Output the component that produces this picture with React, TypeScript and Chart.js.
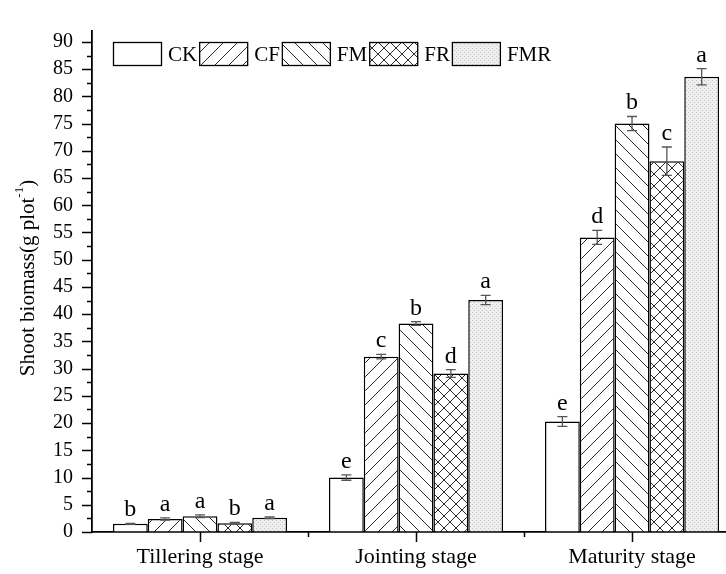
import React, { useEffect, useRef } from 'react';
import { Chart, registerables } from 'chart.js';

Chart.register(...registerables);

const categories = ['Tillering stage', 'Jointing stage', 'Maturity stage'];
const seriesNames = ['CK', 'CF', 'FM', 'FR', 'FMR'];

const ckValues = [1.5, 10.0, 20.3];
const cfValues = [2.4, 32.2, 54.1];
const fmValues = [2.9, 38.3, 75.0];
const frValues = [1.6, 29.1, 68.1];
const fmrValues = [2.6, 42.6, 83.6];

const ckErrors = [0.1, 0.5, 0.9];
const cfErrors = [0.2, 0.4, 1.3];
const fmErrors = [0.25, 0.35, 1.3];
const frErrors = [0.15, 0.7, 2.6];
const fmrErrors = [0.15, 0.85, 1.5];

const ckLetters = ['b', 'e', 'e'];
const cfLetters = ['a', 'c', 'd'];
const fmLetters = ['a', 'b', 'b'];
const frLetters = ['b', 'd', 'c'];
const fmrLetters = ['a', 'a', 'a'];

const yTickValues = [0, 5, 10, 15, 20, 25, 30, 35, 40, 45, 50, 55, 60, 65, 70, 75, 80, 85, 90];

const seriesValues = [ckValues, cfValues, fmValues, frValues, fmrValues];
const seriesErrors = [ckErrors, cfErrors, fmErrors, frErrors, fmrErrors];
const seriesLetters = [ckLetters, cfLetters, fmLetters, frLetters, fmrLetters];
const patternKinds = ['none', 'fwd', 'back', 'cross', 'dots'];

const FONT = '"Liberation Serif", "Times New Roman", serif';

function makePattern(ctx: CanvasRenderingContext2D, kind: string): any {
  if (kind === 'none') return '#ffffff';
  const c = document.createElement('canvas');
  const s = kind === 'dots' ? 4 : kind === 'cross' ? 12 : 14;
  c.width = s;
  c.height = s;
  const t = c.getContext('2d') as CanvasRenderingContext2D;
  t.fillStyle = kind === 'dots' ? '#efefef' : '#ffffff';
  t.fillRect(0, 0, s, s);
  t.strokeStyle = '#2a2a2a';
  t.lineWidth = 1;
  const fwd = () => {
    t.beginPath();
    t.moveTo(-1, s + 1);
    t.lineTo(s + 1, -1);
    t.moveTo(-1, 1);
    t.lineTo(1, -1);
    t.moveTo(s - 1, s + 1);
    t.lineTo(s + 1, s - 1);
    t.stroke();
  };
  const back = () => {
    t.beginPath();
    t.moveTo(-1, -1);
    t.lineTo(s + 1, s + 1);
    t.moveTo(s - 1, -1);
    t.lineTo(s + 1, 1);
    t.moveTo(-1, s - 1);
    t.lineTo(1, s + 1);
    t.stroke();
  };
  if (kind === 'fwd') fwd();
  if (kind === 'back') back();
  if (kind === 'cross') {
    fwd();
    back();
  }
  if (kind === 'dots') {
    t.fillStyle = '#c4c4c4';
    t.fillRect(0, 0, 1, 1);
    t.fillRect(2, 2, 1, 1);
  }
  return ctx.createPattern(c, 'repeat');
}

export default function App() {
  const ref = useRef<HTMLCanvasElement | null>(null);

  useEffect(() => {
    document.body.style.margin = '0';
    const canvas = ref.current as HTMLCanvasElement;
    const ctx0 = canvas.getContext('2d') as CanvasRenderingContext2D;
    const patterns = patternKinds.map((k) => makePattern(ctx0, k));

    const overlay = {
      id: 'overlay',
      afterDatasetsDraw(chart: any) {
        const ctx = chart.ctx;
        const ys = chart.scales.y;
        ctx.save();
        chart.data.datasets.forEach((_ds: any, di: number) => {
          const meta = chart.getDatasetMeta(di);
          meta.data.forEach((bar: any, i: number) => {
            const v = seriesValues[di][i];
            const e = seriesErrors[di][i];
            const x = bar.x;
            const yt = ys.getPixelForValue(v + e);
            const yb = ys.getPixelForValue(v - e);
            ctx.strokeStyle = '#555555';
            ctx.lineWidth = 1.3;
            ctx.beginPath();
            ctx.moveTo(x, yt);
            ctx.lineTo(x, yb);
            ctx.moveTo(x - 5, yt);
            ctx.lineTo(x + 5, yt);
            ctx.moveTo(x - 5, yb);
            ctx.lineTo(x + 5, yb);
            ctx.stroke();
            ctx.fillStyle = '#000000';
            ctx.font = '24px ' + FONT;
            ctx.textAlign = 'center';
            ctx.textBaseline = 'alphabetic';
            ctx.fillText(seriesLetters[di][i], x, yt - 7);
          });
        });
        ctx.restore();
      },
      afterDraw(chart: any) {
        const ctx = chart.ctx;
        const area = chart.chartArea;
        const ys = chart.scales.y;
        const xs = chart.scales.x;
        ctx.save();
        ctx.strokeStyle = '#000000';
        ctx.lineWidth = 1.5;
        ctx.beginPath();
        for (let v = 0; v <= 90; v += 2.5) {
          const py = Math.round(ys.getPixelForValue(v)) + 0.5;
          const len = v % 5 === 0 ? 10 : 5;
          ctx.moveTo(area.left - len, py);
          ctx.lineTo(area.left, py);
        }
        for (let k = 0; k < categories.length; k++) {
          const px = Math.round(xs.getPixelForValue(k)) + 0.5;
          ctx.moveTo(px, area.bottom);
          ctx.lineTo(px, area.bottom + 10);
          if (k < categories.length - 1) {
            const pm = Math.round(xs.getPixelForValue(k + 0.5)) + 0.5;
            ctx.moveTo(pm, area.bottom);
            ctx.lineTo(pm, area.bottom + 5);
          }
        }
        ctx.stroke();

        let lx = area.left + 21;
        const top = 42;
        ctx.font = '21px ' + FONT;
        ctx.textAlign = 'left';
        ctx.textBaseline = 'middle';
        seriesNames.forEach((name, i) => {
          ctx.fillStyle = patterns[i];
          ctx.fillRect(lx, top, 49, 24);
          ctx.strokeStyle = '#000000';
          ctx.lineWidth = 1.3;
          ctx.strokeRect(lx + 0.5, top + 0.5, 48, 23);
          ctx.fillStyle = '#000000';
          ctx.fillText(name, lx + 49 + 6, top + 13);
          lx += 49 + 6 + ctx.measureText(name).width + 2;
        });

        ctx.translate(28, 278);
        ctx.rotate(-Math.PI / 2);
        const main = 'Shoot biomass(g plot';
        const sup = '-1';
        const close = ')';
        ctx.font = '21px ' + FONT;
        const wMain = ctx.measureText(main).width;
        const wClose = ctx.measureText(close).width;
        ctx.font = '13px ' + FONT;
        const wSup = ctx.measureText(sup).width;
        const total = wMain + wSup + wClose;
        let tx = -total / 2;
        ctx.textAlign = 'left';
        ctx.textBaseline = 'middle';
        ctx.fillStyle = '#000000';
        ctx.font = '21px ' + FONT;
        ctx.fillText(main, tx, 0);
        tx += wMain;
        ctx.font = '13px ' + FONT;
        ctx.fillText(sup, tx, -8);
        tx += wSup;
        ctx.font = '21px ' + FONT;
        ctx.fillText(close, tx, 0);
        ctx.restore();
      },
    };

    const chart = new Chart(canvas, {
      type: 'bar',
      data: {
        datasets: seriesNames.map((name, di) => ({
          label: name,
          data: seriesValues[di].map((v, i) => ({ x: i, y: v })),
          backgroundColor: patterns[di],
          borderColor: '#000000',
          borderWidth: 1.5,
          categoryPercentage: 1.612,
          barPercentage: 1,
        })),
      },
      options: {
        animation: false,
        responsive: false,
        events: [],
        layout: { padding: { top: 14, right: 0, bottom: 0, left: 0 } },
        plugins: {
          legend: { display: false },
          tooltip: { enabled: false },
        },
        scales: {
          x: {
            type: 'linear',
            min: -0.5,
            max: 2.435,
            offset: false,
            grid: { display: true, drawOnChartArea: false, drawTicks: false, offset: false },
            border: { display: true, color: '#000000', width: 1.8 },
            ticks: {
              stepSize: 0.5,
              autoSkip: false,
              maxRotation: 0,
              includeBounds: false,
              padding: 12,
              color: '#000000',
              font: { family: FONT, size: 22 },
              callback: (value: any) => {
                const n = Number(value);
                return Number.isInteger(n) && categories[n] ? categories[n] : '';
              },
            },
            afterFit: (scale: any) => {
              scale.height = 42;
            },
          },
          y: {
            type: 'linear',
            min: 0,
            max: 92,
            grid: { display: true, drawOnChartArea: false, drawTicks: false },
            border: { display: true, color: '#000000', width: 1.8 },
            ticks: {
              stepSize: 2.5,
              autoSkip: false,
              includeBounds: false,
              padding: 19,
              color: '#000000',
              font: { family: FONT, size: 20 },
              callback: (value: any) => {
                const n = Number(value);
                return yTickValues.includes(n) ? String(n) : '';
              },
            },
            afterFit: (scale: any) => {
              scale.width = 92;
            },
          },
        },
      },
      plugins: [overlay],
    });

    return () => chart.destroy();
  }, []);

  return (
    <div style={{ width: 726, height: 574 }}>
      <canvas ref={ref} width={726} height={574} style={{ display: 'block' }} />
    </div>
  );
}
